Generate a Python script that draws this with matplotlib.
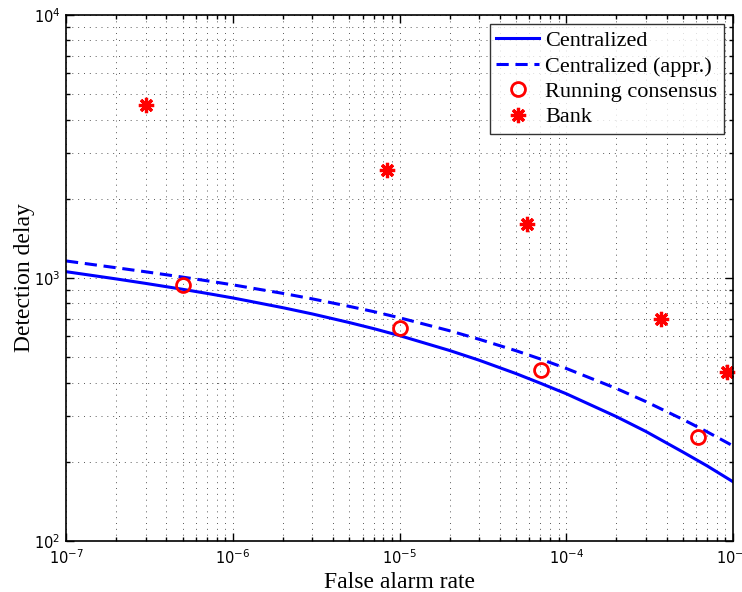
import matplotlib
matplotlib.use("Agg")
import matplotlib.pyplot as plt
from matplotlib.ticker import LogLocator, LogFormatterMathtext, NullFormatter

plt.rcParams['mathtext.fontset'] = 'custom'
plt.rcParams['mathtext.rm'] = 'Liberation Sans'
plt.rcParams['mathtext.it'] = 'Liberation Sans:italic'
plt.rcParams['mathtext.bf'] = 'Liberation Sans:bold'

# ---- data ----
far_grid = [1e-7, 2e-7, 3e-7, 5e-7, 7e-7,
            1e-6, 2e-6, 3e-6, 5e-6, 7e-6,
            1e-5, 2e-5, 3e-5, 5e-5, 7e-5,
            1e-4, 2e-4, 3e-4, 5e-4, 7e-4, 1e-3]
delay_central = [1057, 992, 954, 906, 874,
                 840, 771, 730, 677, 642,
                 604, 530, 487, 433, 398,
                 363, 297, 261, 218, 193, 168]
delay_central_appr = [1161, 1094, 1056, 1008, 976,
                      942, 874, 833, 780, 745,
                      706, 630, 585, 529, 492,
                      453, 380, 339, 290, 260, 230]

far_consensus = [5.0e-7, 1.0e-5, 7.1e-5, 6.2e-4]
delay_consensus = [940, 645, 447, 248]

far_bank = [3.0e-7, 8.4e-6, 5.8e-5, 3.7e-4, 9.2e-4]
delay_bank = [4550, 2575, 1604, 698, 439]

labels = ["Centralized", "Centralized (appr.)", "Running consensus", "Bank"]

# ---- figure ----
fig = plt.figure(figsize=(7.42, 5.92), dpi=100)
ax = fig.add_axes([66/742, 51/592, 667/742, 526/592])

ax.plot(far_grid, delay_central, color=(0, 0, 1), lw=2.2, label=labels[0])
ax.plot(far_grid, delay_central_appr, color=(0, 0, 1), lw=2.2,
        linestyle=(0, (4, 2.2)), label=labels[1])
ax.plot(far_consensus, delay_consensus, linestyle='none', marker='o',
        markersize=10, markerfacecolor='none', markeredgecolor=(1, 0, 0),
        markeredgewidth=2, label=labels[2])
ax.plot(far_bank, delay_bank, linestyle='none', marker=(8, 2, 0),
        markersize=11, color=(1, 0, 0), markeredgewidth=2.3,
        label=labels[3], clip_on=False)

ax.set_xscale('log')
ax.set_yscale('log')
ax.set_xlim(1e-7, 1e-3)
ax.set_ylim(1e2, 1e4)

ax.xaxis.set_major_locator(LogLocator(base=10, numticks=10))
ax.yaxis.set_major_locator(LogLocator(base=10, numticks=10))
ax.xaxis.set_minor_locator(LogLocator(base=10, subs=range(2, 10), numticks=20))
ax.yaxis.set_minor_locator(LogLocator(base=10, subs=range(2, 10), numticks=20))
ax.xaxis.set_major_formatter(LogFormatterMathtext())
ax.yaxis.set_major_formatter(LogFormatterMathtext())
ax.xaxis.set_minor_formatter(NullFormatter())
ax.yaxis.set_minor_formatter(NullFormatter())

ax.grid(True, which='both', linestyle=(0, (1, 5)), color='0.35', lw=0.7)
ax.tick_params(which='both', direction='in', top=True, right=True,
               labelsize=10.5, width=1)
ax.tick_params(which='major', length=6)
ax.tick_params(axis='x', which='major', pad=5)
ax.tick_params(axis='y', which='major', pad=4)
ax.tick_params(which='minor', length=3)
for s in ax.spines.values():
    s.set_linewidth(1.2)

ax.set_xlabel("False alarm rate", fontfamily='Liberation Serif', fontsize=17)
ax.set_ylabel("Detection delay", fontfamily='Liberation Serif', fontsize=17)
ax.yaxis.set_label_coords(-0.046, 0.5)

leg = ax.legend(loc='upper right', prop={'family': 'Liberation Serif', 'size': 16},
                frameon=True, fancybox=False, edgecolor='black',
                borderaxespad=0.4, handlelength=1.9, handletextpad=0.3,
                labelspacing=0.22, borderpad=0.3)
leg.get_frame().set_linewidth(1.0)

fig.savefig("out.png", dpi=100)
